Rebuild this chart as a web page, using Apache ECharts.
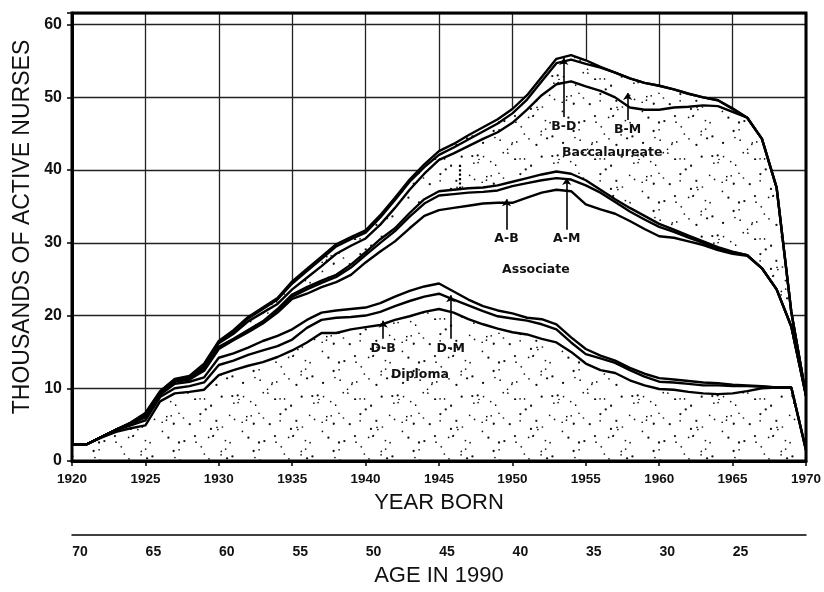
<!DOCTYPE html>
<html><head><meta charset="utf-8">
<script src="https://cdn.jsdelivr.net/npm/echarts/dist/echarts.min.js"></script>
<style>html,body{margin:0;padding:0;background:#fff}#c{width:824px;height:592px}</style>
</head><body><div id="c"></div>
<script>
// Years born (x categories)
const years = Array.from({length: 51}, (_, i) => 1920 + i);
const yTicks = [0, 10, 20, 30, 40, 50, 60];

// Cumulative curves (thousands of active nurses)
const lineDiploma = [2.3,2.3,3.2,4.0,4.5,4.9,8.2,9.3,9.5,9.8,11.8,12.5,13.1,13.6,14.3,15.2,16.3,17.6,17.6,18.1,18.4,18.7,19.4,19.9,20.5,20.9,20.4,19.5,18.8,18.2,17.7,17.4,16.8,16.3,15.0,13.4,12.5,12.1,11.1,10.4,9.9,9.8,9.5,9.3,9.2,9.3,9.6,10.0,10.1,10.1,1.5];
const lineDB = [2.3,2.3,3.3,4.2,4.9,5.6,8.8,10.0,10.3,10.8,13.2,13.8,14.6,15.2,15.8,16.7,18.3,19.4,19.7,19.8,20.0,20.5,21.3,22.0,22.6,23.0,22.2,21.4,20.6,19.9,19.6,19.3,18.8,18.1,16.3,14.7,14.1,13.5,12.5,11.6,10.9,10.8,10.6,10.4,10.4,10.3,10.3,10.2,10.1,10.1,1.5];
const lineDM = [2.3,2.3,3.3,4.3,5.1,6.0,9.1,10.6,10.9,11.5,14.2,14.8,15.6,16.5,17.2,18.1,19.4,20.4,20.7,20.9,21.1,21.7,22.6,23.4,24.0,24.4,23.3,22.2,21.3,20.7,20.3,19.7,19.5,18.8,17.0,15.4,14.5,13.8,12.8,12.0,11.4,11.2,11.0,10.8,10.7,10.5,10.4,10.3,10.1,10.1,1.5];
const lineAssoc = [2.3,2.3,3.3,4.3,5.1,6.2,9.3,10.9,11.2,12.4,15.4,16.6,17.7,18.9,20.4,22.3,23.0,23.9,24.6,25.6,27.3,28.8,30.2,32.0,33.7,34.5,34.8,35.1,35.4,35.5,35.5,36.2,36.9,37.3,37.1,35.3,34.6,34.0,33.0,31.9,30.9,30.7,30.2,29.7,29.0,28.5,28.2,26.5,23.6,18.5,9.0];
const lineAB = [2.3,2.3,3.3,4.3,5.15,6.25,9.35,10.95,11.25,12.6,15.6,16.7,17.9,19.1,20.7,22.6,23.6,24.5,25.3,26.6,28.3,30.0,31.6,33.6,35.4,36.5,36.7,36.9,37.0,37.2,37.8,38.2,38.6,38.9,38.7,37.9,36.9,35.6,34.3,33.2,32.2,31.5,30.7,30.0,29.2,28.7,28.3,26.5,23.6,18.5,9.0];
const lineAM = [2.3,2.3,3.3,4.3,5.2,6.3,9.4,11.0,11.3,12.7,15.7,16.8,18.0,19.2,20.9,22.9,23.9,24.8,25.6,27.0,28.7,30.5,32.0,34.1,36.0,37.1,37.3,37.5,37.6,37.9,38.4,38.9,39.4,39.8,39.5,38.6,37.3,36.0,34.8,33.7,32.6,31.8,31.0,30.2,29.4,28.8,28.3,26.5,23.6,18.5,9.0];
const lineBacc = [2.3,2.3,3.3,4.3,5.2,6.4,9.4,11.1,11.4,13.0,16.2,17.5,19.2,20.4,21.6,23.6,25.2,26.8,28.5,29.6,30.6,32.5,34.8,37.3,39.5,41.4,42.3,43.3,44.3,45.2,46.5,48.3,50.3,51.8,52.2,51.5,50.9,50.0,48.6,48.3,48.3,48.6,48.7,48.9,48.8,48.0,47.2,44.3,37.6,20.5,9.0];
const lineBM = [2.3,2.3,3.3,4.3,5.25,6.5,9.5,11.2,11.55,13.2,16.35,17.8,19.6,20.9,22.2,24.4,26.1,27.8,29.5,30.5,31.4,33.5,35.9,38.4,40.4,42.1,43.1,44.2,45.3,46.4,47.8,49.7,52.2,54.7,55.2,54.6,54.1,53.4,52.6,52.0,51.6,51.1,50.5,50.0,49.6,48.4,47.2,44.3,37.6,20.5,9.0];
const lineTotal = [2.3,2.3,3.3,4.3,5.3,6.6,9.6,11.3,11.7,13.4,16.5,18.0,19.8,21.1,22.4,24.7,26.4,28.1,29.8,30.8,31.7,33.8,36.2,38.7,40.8,42.6,43.6,44.8,45.9,47.0,48.4,50.3,52.8,55.3,55.8,55.1,54.2,53.4,52.6,52.0,51.6,51.1,50.5,50.0,49.6,48.5,47.2,44.3,37.6,20.5,9.0];

// Annotations: [label, year, from, to]
const arrowNotes = [
  ['B-D', 1953.5, 47.3, 55.4],
  ['B-M', 1957.85, 46.9, 50.6],
  ['A-B', 1949.6, 31.8, 36.0],
  ['A-M', 1953.7, 31.8, 38.9],
  ['D-B', 1941.2, 16.8, 19.3],
  ['D-M', 1945.8, 16.8, 22.8]
];
const regionNotes = [
  ['Baccalaureate', 1956.8, 42.4],
  ['Associate', 1951.6, 26.3],
  ['Diploma', 1943.7, 11.9]
];
const dottedNote = [1946.4, 37.4, 41.0];

const pair = arr => years.map((y, i) => [y, arr[i]]);

// dotted texture
const tile = (() => {
  const s = 80, c = document.createElement('canvas');
  c.width = s; c.height = s;
  const g = c.getContext('2d');
  g.fillStyle = '#fff'; g.fillRect(0, 0, s, s);
  g.fillStyle = '#111';
  for (let n = 1; n <= 62; n++) {
    const x = ((0.37 + n * 0.7548776662466927 + 0.13 * Math.sin(n * 2.1)) % 1) * s;
    const y = ((0.61 + n * 0.5698402909980532 + 0.11 * Math.cos(n * 1.7)) % 1) * s;
    const r = (n % 3 === 0) ? 1.15 : 0.85;
    g.beginPath(); g.arc(x, y, r, 0, Math.PI * 2); g.fill();
  }
  return c;
})();

const YMAX = 61.6;
const FONT = 'Liberation Sans';
const NOTEFONT = 'DejaVu Sans';

const chart = echarts.init(document.getElementById('c'), null, {renderer: 'canvas'});

const areaSeries = (arr, color, z) => ({
  type: 'line', data: pair(arr), showSymbol: false, symbol: 'none', silent: true,
  lineStyle: {width: 0}, areaStyle: {color: color, opacity: 1}, z: z, animation: false
});
const lineSeries = (arr, extra) => Object.assign({
  type: 'line', data: pair(arr), showSymbol: false, symbol: 'none', silent: true,
  lineStyle: {color: '#000', width: 2.4}, z: 5, animation: false
}, extra || {});

const option = {
  backgroundColor: '#fff',
  animation: false,
  textStyle: {fontFamily: FONT, color: '#111'},
  grid: {left: 72, right: 11, top: 13, bottom: 125, show: false},
  xAxis: [{
    type: 'value', min: 1920, max: 1970, interval: 5,
    name: 'YEAR BORN', nameLocation: 'middle', nameGap: 31,
    nameTextStyle: {fontFamily: FONT, fontSize: 22, color: '#111'},
    axisLine: {show: true, lineStyle: {color: '#000', width: 3}},
    axisTick: {show: true, length: 5, lineStyle: {color: '#000', width: 1.5}},
    axisLabel: {margin: 11, fontFamily: FONT, fontWeight: 'bold', fontSize: 13.5, color: '#111',
      showMinLabel: true, showMaxLabel: true, formatter: v => String(v)},
    splitLine: {show: true, lineStyle: {color: '#222', width: 1.3}}
  }, {
    type: 'value', min: 1920, max: 1970, interval: 5, position: 'bottom', offset: 74,
    name: 'AGE IN 1990', nameLocation: 'middle', nameGap: 30,
    nameTextStyle: {fontFamily: FONT, fontSize: 22, color: '#111'},
    axisLine: {show: true, lineStyle: {color: '#000', width: 1.5}},
    axisTick: {show: false},
    axisLabel: {margin: 10, fontFamily: FONT, fontWeight: 'bold', fontSize: 14, color: '#111',
      padding: [0, 0, 0, 16], showMaxLabel: false,
      formatter: v => (v >= 1970 ? '' : String(1990 - v))},
    splitLine: {show: false}
  }],
  yAxis: {
    type: 'value', min: 0, max: YMAX, interval: 10,
    axisLine: {show: true, lineStyle: {color: '#000', width: 3}},
    axisTick: {show: true, length: 5, lineStyle: {color: '#000', width: 1.5}},
    axisLabel: {margin: 10, fontFamily: FONT, fontWeight: 'bold', fontSize: 16, color: '#111',
      formatter: v => (yTicks.indexOf(v) >= 0 ? String(v) : '')},
    splitLine: {show: true, lineStyle: {color: '#222', width: 1.3}}
  },
  series: [
    areaSeries(lineTotal, {image: tile, repeat: 'repeat'}, 1),
    areaSeries(lineAM, '#fff', 2),
    areaSeries(lineDiploma, {image: tile, repeat: 'repeat'}, 3),
    lineSeries(lineDiploma),
    lineSeries(lineDB),
    lineSeries(lineDM),
    lineSeries(lineAssoc),
    lineSeries(lineAB),
    lineSeries(lineAM),
    lineSeries(lineBacc),
    lineSeries(lineBM),
    lineSeries(lineTotal, {
      markLine: {
        silent: true, animation: false,
        symbol: ['none', 'arrow'], symbolSize: 7,
        lineStyle: {color: '#000', width: 1.6, type: 'solid'},
        label: {show: true, position: 'start', formatter: '{b}', color: '#111',
          fontFamily: NOTEFONT, fontWeight: 'bold', fontSize: 12.5, distance: 3},
        data: arrowNotes.map(a => [{name: a[0], coord: [a[1], a[2]]}, {coord: [a[1], a[3]]}]).concat([
          [{coord: [dottedNote[0], dottedNote[1]], symbol: 'none',
            lineStyle: {type: 'dotted', width: 2.2, color: '#000'}, label: {show: false}},
           {coord: [dottedNote[0], dottedNote[2]], symbol: 'none'}]
        ])
      },
      markPoint: {
        silent: true, animation: false,
        symbol: 'circle', symbolSize: 1, itemStyle: {color: 'rgba(0,0,0,0)'},
        label: {show: true, position: 'inside', formatter: '{b}', color: '#111',
          fontFamily: NOTEFONT, fontWeight: 'bold', fontSize: 12.5},
        data: regionNotes.map(r => ({name: r[0], coord: [r[1], r[2]]}))
      }
    })
  ]
};
chart.setOption(option);

// Frame and y-axis title
const p0 = chart.convertToPixel({gridIndex: 0}, [1920, 0]);
const p1 = chart.convertToPixel({gridIndex: 0}, [1970, YMAX]);
chart.setOption({
  graphic: [{
    type: 'rect', z: 100, silent: true,
    shape: {x: p0[0], y: p1[1], width: p1[0] - p0[0], height: p0[1] - p1[1]},
    style: {fill: 'none', stroke: '#000', lineWidth: 3}
  }, {
    type: 'text', z: 100, silent: true, x: 23, y: (p0[1] + p1[1]) / 2 - 10, rotation: Math.PI / 2,
    style: {text: 'THOUSANDS OF ACTIVE NURSES', fontFamily: FONT, fontSize: 23, fill: '#111',
      textAlign: 'center', textVerticalAlign: 'middle'}
  }]
});
</script>
</body></html>
